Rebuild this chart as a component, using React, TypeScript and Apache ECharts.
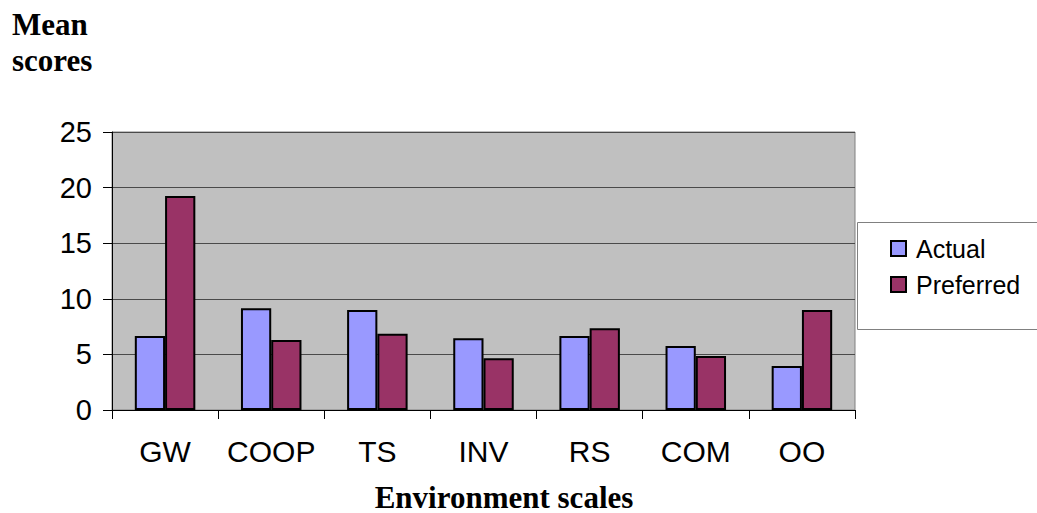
import { useEffect, useRef } from 'react';
import * as echarts from 'echarts';

// Mean scores per environment scale
const categories = ['GW', 'COOP', 'TS', 'INV', 'RS', 'COM', 'OO'];
const actual = [6.65, 9.15, 9.0, 6.45, 6.65, 5.75, 3.95];
const preferred = [19.25, 6.3, 6.85, 4.65, 7.35, 4.85, 9.0];
const seriesNames = ['Actual', 'Preferred'];

const yMin = 0;
const yMax = 25;
const yStep = 5;

const SANS = '"Liberation Sans", Arial, sans-serif';
const SERIF = '"Liberation Serif", "Times New Roman", serif';

export default function App() {
  const ref = useRef<HTMLDivElement>(null);

  useEffect(() => {
    document.body.style.margin = '0';
    if (!ref.current) return;
    const chart = echarts.init(ref.current, undefined, { renderer: 'svg' });

    const barStyle = (color: string) => ({
      color,
      borderColor: '#000',
      borderWidth: 2,
    });

    chart.setOption({
      animation: false,
      backgroundColor: '#fff',
      grid: {
        left: 112,
        right: 182,
        top: 132,
        bottom: 103,
        show: true,
        backgroundColor: '#c0c0c0',
        borderColor: '#808080',
        borderWidth: 1,
      },
      legend: {
        orient: 'vertical',
        left: 890,
        top: 236,
        data: seriesNames,
        padding: 0,
        itemWidth: 15,
        itemHeight: 15,
        itemGap: 11,
        icon: 'rect',
        textStyle: {
          fontFamily: SANS,
          fontSize: 25,
          lineHeight: 25,
          color: '#000',
          padding: [0, 0, 0, 5],
        },
      },
      xAxis: {
        type: 'category',
        data: categories,
        axisLine: { show: true, lineStyle: { color: '#000', width: 1 } },
        axisTick: { show: true, length: 9, lineStyle: { color: '#000' } },
        axisLabel: {
          interval: 0,
          margin: 26,
          fontFamily: SANS,
          fontSize: 30,
          color: '#000',
        },
        splitLine: { show: false },
      },
      yAxis: {
        type: 'value',
        min: yMin,
        max: yMax,
        interval: yStep,
        axisLine: { show: true, lineStyle: { color: '#000', width: 1 } },
        axisTick: { show: true, length: 9, lineStyle: { color: '#000' } },
        axisLabel: {
          margin: 20,
          fontFamily: SANS,
          fontSize: 29,
          color: '#000',
        },
        splitLine: { show: true, lineStyle: { color: '#4a4a4a', width: 1 } },
      },
      series: [
        {
          name: seriesNames[0],
          type: 'bar',
          data: actual,
          barGap: '0%',
          barCategoryGap: '43%',
          itemStyle: barStyle('#9999ff'),
        },
        {
          name: seriesNames[1],
          type: 'bar',
          data: preferred,
          barGap: '0%',
          barCategoryGap: '43%',
          itemStyle: barStyle('#993366'),
        },
      ],
      graphic: [
        {
          // legend frame, running off the right edge
          type: 'rect',
          z: 0,
          shape: { x: 857.5, y: 222.5, width: 300, height: 107 },
          style: { fill: '#fff', stroke: '#808080', lineWidth: 1 },
        },
        {
          type: 'text',
          left: 12,
          top: 6,
          style: {
            text: 'Mean\nscores',
            fontFamily: SERIF,
            fontWeight: 'bold',
            fontSize: 31,
            lineHeight: 36,
            fill: '#000',
          },
        },
        {
          type: 'text',
          x: 504,
          y: 497,
          style: {
            text: 'Environment scales',
            fontFamily: SERIF,
            fontWeight: 'bold',
            fontSize: 31,
            align: 'center',
            verticalAlign: 'middle',
            fill: '#000',
          },
        },
      ],
    });

    return () => chart.dispose();
  }, []);

  return <div ref={ref} style={{ width: 1037, height: 513 }} />;
}
